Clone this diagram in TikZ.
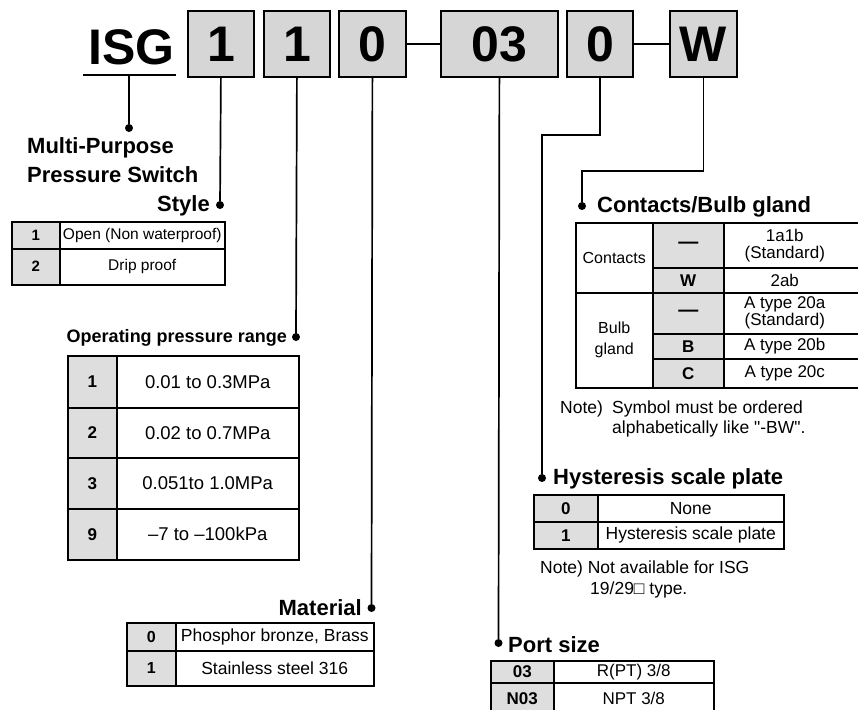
\documentclass[tikz,border=0pt]{standalone}
\usepackage{fontspec}
\setmainfont{Liberation Sans}
\newfontfamily\nomapfont{Liberation Sans}
\newcommand\myfs[1]{\fontsize{#1}{#1}\selectfont}
\newcommand\dtxt[1]{\parbox{122pt}{\centering #1}\hspace*{25pt}}
\definecolor{hdrgray}{gray}{0.84}
\definecolor{symgray}{gray}{0.87}
\begin{document}
\begin{tikzpicture}[x=1pt,y=-1pt,
  conn/.style={line width=1.7pt},
  hbox/.style={draw, line width=1.8pt, fill=hdrgray, anchor=north west, inner sep=0pt, minimum height=66pt, font=\myfs{50}\bfseries},
  cell/.style={draw, line width=1.5pt, anchor=north west, inner sep=0pt, align=center},
  sym/.style={cell, fill=symgray},
  dot/.style={circle, fill=black, inner sep=0pt, minimum size=8pt},
  ttl/.style={inner sep=0pt, font=\myfs{22}\bfseries}]
\useasboundingbox (0,0) rectangle (858,709);
\clip (0,0) rectangle (858,709);
\fill[white] (0,0) rectangle (858,709);

% ---- header ----
\node[anchor=base west, inner sep=0pt, font=\myfs{50}\bfseries] (isg) at (88,64) {ISG};
\coordinate (ulA) at (83,75);
\coordinate (ulB) at (176,75);
\coordinate (ulM) at (129,75);
\draw[line width=2.2pt] (ulA) -- (ulB);
\node[hbox, minimum width=66pt] (b1) at (187,10) {1};
\node[hbox, minimum width=66pt] (b2) at (263,10) {1};
\node[hbox, minimum width=67pt] (b3) at (338,10) {0};
\node[hbox, minimum width=117pt] (b4) at (440,10) {03};
\node[hbox, minimum width=66pt] (b5) at (566,10) {0};
\node[hbox, minimum width=67pt] (b6) at (669,10) {W};
\draw[conn] (b3.east) -- (b4.west);
\draw[conn] (b5.east) -- (b6.west);

% ---- dots ----
\node[dot] (dIsg) at (129,128) {};
\node[dot] (dStyle) at (220,205) {};
\node[dot] (dOp) at (296,337) {};
\node[dot] (dMat) at (371.5,608) {};
\node[dot] (dPort) at (498.5,643) {};
\node[dot] (dHys) at (542,478) {};
\node[dot] (dCon) at (582,206) {};

% ---- connectors ----
\draw[conn] (ulM) -- (dIsg);
\draw[conn] (b1.south) -- (dStyle);
\draw[conn] (b2.south) -- (dOp);
\draw[conn] (b3.south) -- (dMat);
\draw[conn] (b4.south) -- (dPort);
\draw[conn] (b5.south) -- ++(0,57) -| (dHys);
\draw[conn] (b6.south) -- ++(0,93) -| (dCon);

% ---- titles ----
\node[ttl, anchor=base west] (tMP1) at (27,153) {Multi-Purpose};
\node[ttl, anchor=base west] (tMP2) at (27,182) {Pressure Switch};
\node[ttl, anchor=base east] (tStyle) at (210,211) {Style};
\node[ttl, anchor=base east, font=\myfs{18}\bfseries] (tOp) at (287,342) {Operating pressure range};
\node[ttl, anchor=base east] (tMat) at (362,615) {Material};
\node[ttl, anchor=base west] (tCon) at (597,212) {Contacts/Bulb gland};
\node[ttl, anchor=base west] (tHys) at (553,484) {Hysteresis scale plate};
\node[ttl, anchor=base west] (tPort) at (508,652) {Port size};

% ---- Style table ----
\node[sym, minimum width=48pt, minimum height=27pt, font=\myfs{15}\bfseries] (s1k) at (11,221) {1};
\node[cell, minimum width=165pt, minimum height=27pt, font=\myfs{15.5}] (s1v) at (59,221) {Open (Non waterproof)};
\node[sym, minimum width=48pt, minimum height=36pt, font=\myfs{15}\bfseries] (s2k) at (11,248) {2};
\node[cell, minimum width=165pt, minimum height=36pt, font=\myfs{15.5}] (s2v) at (59,248) {Drip proof};

% ---- Operating pressure table ----
\node[sym, minimum width=49pt, minimum height=52pt, font=\myfs{17}\bfseries] (o1k) at (67,355) {1};
\node[cell, minimum width=182pt, minimum height=52pt, font=\myfs{18.5}] (o1v) at (116,355) {0.01 to 0.3MPa};
\node[sym, minimum width=49pt, minimum height=50pt, font=\myfs{17}\bfseries] (o2k) at (67,407) {2};
\node[cell, minimum width=182pt, minimum height=50pt, font=\myfs{18.5}] (o2v) at (116,407) {0.02 to 0.7MPa};
\node[sym, minimum width=49pt, minimum height=51pt, font=\myfs{17}\bfseries] (o3k) at (67,457) {3};
\node[cell, minimum width=182pt, minimum height=51pt, font=\myfs{18.5}] (o3v) at (116,457) {0.051to 1.0MPa};
\node[sym, minimum width=49pt, minimum height=51pt, font=\myfs{17}\bfseries] (o4k) at (67,508) {9};
\node[cell, minimum width=182pt, minimum height=51pt, font=\myfs{18.5}] (o4v) at (116,508) {–7 to –100kPa};

% ---- Material table ----
\node[sym, minimum width=49pt, minimum height=28pt, font=\myfs{16}\bfseries] (m1k) at (126,622) {0};
\node[cell, minimum width=198pt, minimum height=28pt, font=\myfs{17.5}] (m1v) at (175,622) {Phosphor bronze, Brass};
\node[sym, minimum width=49pt, minimum height=35pt, font=\myfs{16}\bfseries] (m2k) at (126,650) {1};
\node[cell, minimum width=198pt, minimum height=35pt, font=\myfs{17.5}] (m2v) at (175,650) {Stainless steel 316};

% ---- Contacts / Bulb gland table ----
\node[cell, minimum width=77pt, minimum height=70pt, font=\myfs{16}] (cLab) at (575,222) {Contacts};
\node[cell, minimum width=77pt, minimum height=95pt, font=\fontsize{16}{21}\selectfont] (bLab) at (575,292) {Bulb\\gland};
\node[sym, minimum width=71pt, minimum height=45pt, font=\myfs{20}\bfseries] (c1k) at (652,222) {—};
\node[cell, minimum width=147pt, minimum height=45pt, font=\fontsize{17}{17}\selectfont] (c1v) at (723,222) {\dtxt{1a1b\\(Standard)}};
\node[sym, minimum width=71pt, minimum height=25pt, font=\myfs{17}\bfseries] (c2k) at (652,267) {W};
\node[cell, minimum width=147pt, minimum height=25pt, font=\myfs{17}] (c2v) at (723,267) {\dtxt{2ab}};
\node[sym, minimum width=71pt, minimum height=41pt, font=\myfs{20}\bfseries] (c3k) at (652,292) {—};
\node[cell, minimum width=147pt, minimum height=41pt, font=\fontsize{17}{17}\selectfont] (c3v) at (723,292) {\dtxt{A type 20a\\(Standard)}};
\node[sym, minimum width=71pt, minimum height=25pt, font=\myfs{17}\bfseries] (c4k) at (652,333) {B};
\node[cell, minimum width=147pt, minimum height=25pt, font=\myfs{17}] (c4v) at (723,333) {\dtxt{A type 20b}};
\node[sym, minimum width=71pt, minimum height=29pt, font=\myfs{17}\bfseries] (c5k) at (652,358) {C};
\node[cell, minimum width=147pt, minimum height=29pt, font=\myfs{17}] (c5v) at (723,358) {\dtxt{A type 20c}};
\node[anchor=base west, inner sep=0pt, font=\myfs{17.5}] (n1a) at (560,413) {Note)};
\node[anchor=base west, inner sep=0pt, font=\myfs{17.5}] (n1b) at (612,413) {Symbol must be ordered};
\node[anchor=base west, inner sep=0pt, font=\myfs{17.5}\nomapfont] (n1c) at (612,433) {alphabetically like "-BW".};

% ---- Hysteresis table ----
\node[sym, minimum width=64pt, minimum height=27pt, font=\myfs{17}\bfseries] (h1k) at (533,494) {0};
\node[cell, minimum width=186pt, minimum height=27pt, font=\myfs{17.5}] (h1v) at (597,494) {None};
\node[sym, minimum width=64pt, minimum height=27pt, font=\myfs{17}\bfseries] (h2k) at (533,521) {1};
\node[cell, minimum width=186pt, minimum height=27pt, font=\myfs{17.5}] (h2v) at (597,521) {Hysteresis scale plate};
\node[anchor=base west, inner sep=0pt, font=\myfs{17.5}] (n2a) at (540,573) {Note) Not available for ISG};
\node[anchor=base west, inner sep=0pt, font=\myfs{17.5}] (n2b) at (590,594) {19/29□ type.};

% ---- Port size table ----
\node[sym, minimum width=63pt, minimum height=22pt, font=\myfs{17}\bfseries] (p1k) at (490,660) {03};
\node[cell, minimum width=160pt, minimum height=22pt, font=\myfs{17}] (p1v) at (553,660) {R(PT) 3/8};
\node[sym, minimum width=63pt, minimum height=32pt, font=\myfs{17}\bfseries] (p2k) at (490,682) {N03};
\node[cell, minimum width=160pt, minimum height=32pt, font=\myfs{17}] (p2v) at (553,682) {NPT 3/8};
\end{tikzpicture}
\end{document}
